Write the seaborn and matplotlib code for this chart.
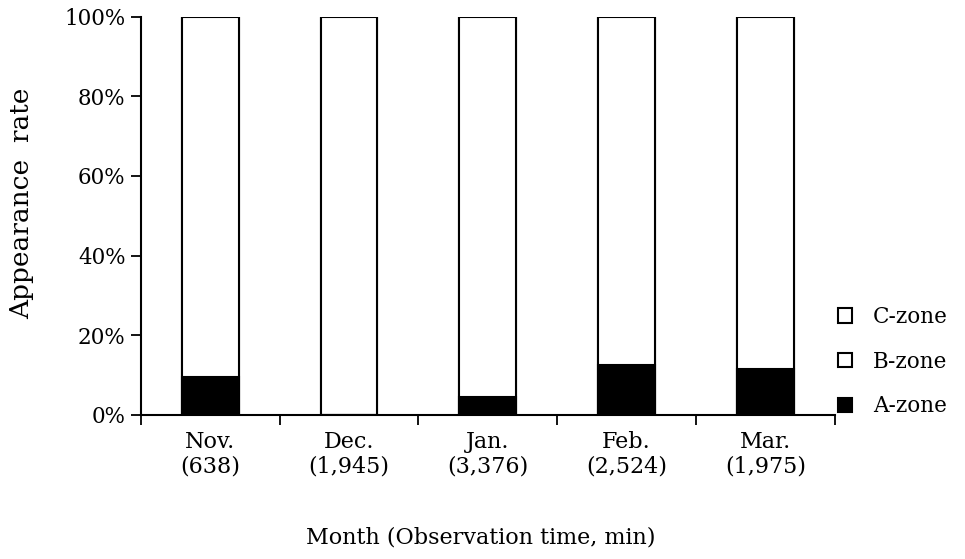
import matplotlib.pyplot as plt
import matplotlib.patches as mpatches
import pandas as pd
import seaborn as sns

months = ["Nov.\n(638)", "Dec.\n(1,945)", "Jan.\n(3,376)", "Feb.\n(2,524)", "Mar.\n(1,975)"]
a_zone = [9.5, 0.0, 4.5, 12.5, 11.5]
b_zone = [90.5, 100.0, 95.5, 87.5, 88.5]
c_zone = [0.0, 0.0, 0.0, 0.0, 0.0]

df = pd.DataFrame({"month": months, "A": a_zone, "B": b_zone, "C": c_zone})
df["AB"] = df["A"] + df["B"]
df["ABC"] = df["AB"] + df["C"]

sns.set_theme(style="white")
plt.rcParams["font.family"] = ["DejaVu Serif"]
plt.rcParams["text.color"] = "black"
plt.rcParams["xtick.color"] = "black"
plt.rcParams["ytick.color"] = "black"

fig = plt.figure(figsize=(9.65, 5.59), dpi=100)
ax = fig.add_axes([0.146, 0.258, 0.719, 0.712])

# stacked bars by overlaying cumulative totals
for col, color in [("ABC", "white"), ("AB", "white"), ("A", "black")]:
    sns.barplot(data=df, x="month", y=col, color=color, width=0.41,
                edgecolor="black", linewidth=1.5, saturation=1, ax=ax)

ax.set_xlim(-0.5, 4.5)
ax.set_ylim(0, 100)
ax.set_yticks([0, 20, 40, 60, 80, 100])
ax.set_yticklabels(["0%", "20%", "40%", "60%", "80%", "100%"], fontsize=15.5)
ax.set_xticks(range(len(months)))
ax.set_xticklabels(months, fontsize=16, linespacing=1.15)
ax.set_xticks([-0.5, 0.5, 1.5, 2.5, 3.5, 4.5], minor=True)
ax.tick_params(axis="x", which="major", length=0, pad=12)
ax.tick_params(axis="x", which="minor", direction="out", length=7, width=1.3, color="black", bottom=True)
ax.tick_params(axis="y", direction="out", length=7, width=1.3, color="black", left=True, pad=4)

ax.set_xlabel("")
ax.set_ylabel("")
fig.text(0.022, 0.637, "Appearance  rate", fontsize=19, rotation=90, ha="center", va="center")
fig.text(0.498, 0.038, "Month (Observation time, min)", fontsize=16, ha="center", va="center")

sns.despine(ax=ax)
for side in ["left", "bottom"]:
    ax.spines[side].set_color("black")
    ax.spines[side].set_linewidth(1.5)

handles = [
    mpatches.Patch(facecolor="white", edgecolor="black", linewidth=1.5, label="C-zone"),
    mpatches.Patch(facecolor="white", edgecolor="black", linewidth=1.5, label="B-zone"),
    mpatches.Patch(facecolor="black", edgecolor="black", linewidth=1.5, label="A-zone"),
]
fig.legend(handles=handles, loc="center left", bbox_to_anchor=(0.848, 0.353),
           frameon=False, fontsize=15.5, handlelength=0.65, handleheight=0.65,
           labelspacing=1.05, handletextpad=1.0)

fig.savefig("out.png", dpi=100)
